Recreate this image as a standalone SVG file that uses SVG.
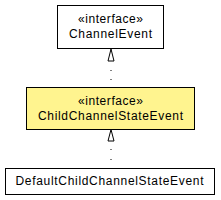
<svg xmlns="http://www.w3.org/2000/svg" width="221" height="200" viewBox="0 0 221 200">
<style>
.box{stroke:#000;stroke-width:1;fill:#fff}
.hl{fill:#fff48f}
text{font-family:"Liberation Sans",Arial,sans-serif;font-size:12px;fill:#000;text-anchor:middle}
.dep{stroke:#000;stroke-width:1;stroke-dasharray:1 8;fill:none}
.tri{stroke:#000;stroke-width:1;fill:#fff}
</style>
<rect width="221" height="200" fill="#fff"/>
<g id="ChannelEvent">
<rect class="box" x="57.5" y="5.5" width="106" height="43"/>
<text x="110.5" y="23" textLength="65" lengthAdjust="spacing">«interface»</text>
<text x="110.5" y="38" textLength="83" lengthAdjust="spacing">ChannelEvent</text>
</g>
<g id="ChildChannelStateEvent">
<rect class="box hl" x="26.5" y="87.5" width="168" height="42"/>
<text x="110.5" y="105" textLength="65" lengthAdjust="spacing">«interface»</text>
<text x="110.5" y="120" textLength="145" lengthAdjust="spacing">ChildChannelStateEvent</text>
</g>
<g id="DefaultChildChannelStateEvent">
<rect class="box" x="5.5" y="168.5" width="209" height="26"/>
<text x="109.5" y="185" textLength="188" lengthAdjust="spacing">DefaultChildChannelStateEvent</text>
</g>
<g id="connectors">
<line class="dep" x1="111" y1="70" x2="111" y2="87"/>
<polygon class="tri" points="111,49 108,61 114,61"/>
<line class="dep" x1="111" y1="149" x2="111" y2="168" style="stroke-dasharray:1 9"/>
<polygon class="tri" points="111,129.5 108,141 114,141"/>
</g>
</svg>
